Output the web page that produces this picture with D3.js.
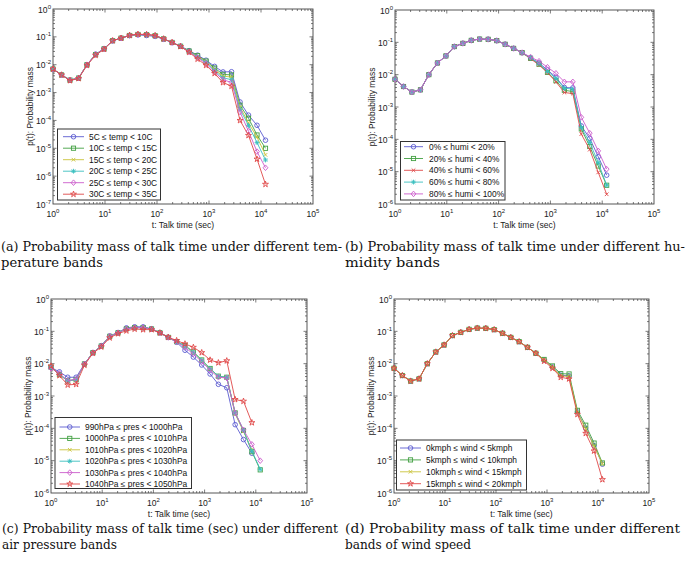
<!DOCTYPE html>
<html><head><meta charset="utf-8">
<script src="https://cdn.jsdelivr.net/npm/d3@7"></script>
<style>body{margin:0;background:#fff}svg{display:block}</style>
</head><body><div id="chart"></div>
<script>
// ---------- data ----------
const talkTime = [1, 1.46, 2.12, 3.1, 4.5, 6.6, 9.6, 14, 20.4, 29.7, 43, 63, 92, 134, 195, 284, 414, 603, 878, 1280, 1860, 2710, 3950, 5750, 8380, 12200];
const xTickExps = [0, 1, 2, 3, 4, 5];

// (a) temperature bands
const tempLabels = ["5C \u2264 temp < 10C", "10C \u2264 temp < 15C", "15C \u2264 temp < 20C", "20C \u2264 temp < 25C", "25C \u2264 temp < 30C", "30C \u2264 temp < 35C"];
const temp5_10  = [7.0e-3,4.3e-3,2.8e-3,3.3e-3,1.0e-2,2.4e-2,3.8e-2,7.2e-2,9.0e-2,0.112,0.118,0.112,0.104,0.082,0.062,0.046,0.032,0.022,0.0145,8.7e-3,5.5e-3,5.6e-3,4.6e-4,1.55e-4,6.7e-5,1.95e-5];
const temp10_15 = [7.0e-3,4.3e-3,2.8e-3,3.3e-3,1.0e-2,2.3e-2,3.7e-2,7.3e-2,9.0e-2,0.112,0.122,0.12,0.11,0.085,0.063,0.046,0.031,0.021,0.0135,7.6e-3,4.5e-3,4.3e-3,3.5e-4,1.2e-4,3.0e-5,1.0e-5];
const temp15_20 = [7.0e-3,4.3e-3,2.8e-3,3.3e-3,1.0e-2,2.3e-2,3.7e-2,7.3e-2,9.0e-2,0.112,0.122,0.12,0.11,0.085,0.063,0.046,0.030,0.020,0.0128,6.6e-3,3.9e-3,3.6e-3,3.0e-4,8.1e-5,2.5e-5,5.8e-6];
const temp20_25 = [7.0e-3,4.3e-3,2.8e-3,3.3e-3,1.0e-2,2.3e-2,3.7e-2,7.3e-2,9.0e-2,0.112,0.122,0.12,0.11,0.085,0.063,0.046,0.030,0.019,0.012,6.1e-3,3.4e-3,2.9e-3,2.5e-4,6.6e-5,1.6e-5,3.8e-6];
const temp25_30 = [7.0e-3,4.3e-3,2.8e-3,3.3e-3,1.0e-2,2.3e-2,3.7e-2,7.3e-2,9.0e-2,0.112,0.122,0.12,0.11,0.085,0.063,0.046,0.029,0.018,0.011,5.5e-3,2.9e-3,2.3e-3,2.0e-4,4.1e-5,7.6e-6,2.0e-6];
const temp30_35 = [7.0e-3,4.3e-3,2.7e-3,3.2e-3,0.95e-2,2.2e-2,3.6e-2,7.3e-2,9.0e-2,0.114,0.124,0.122,0.112,0.085,0.063,0.045,0.028,0.016,0.0095,4.9e-3,2.3e-3,1.7e-3,1.0e-4,2.9e-5,4.1e-6,5.1e-7];

// (b) humidity bands
const humiLabels = ["0% \u2264 humi < 20%", "20% \u2264 humi < 40%", "40% \u2264 humi < 60%", "60% \u2264 humi < 80%", "80% \u2264 humi < 100%"];
const humi0_20   = [7.2e-3,4.3e-3,2.9e-3,3.4e-3,1.0e-2,2.3e-2,3.8e-2,7.4e-2,9.3e-2,0.115,0.126,0.124,0.113,0.087,0.065,0.048,0.033,0.023,0.014,8.3e-3,4.0e-3,3.9e-3,2.6e-4,1.07e-4,2.9e-5,7.8e-6];
const humi20_40  = [7.2e-3,4.3e-3,2.9e-3,3.4e-3,1.0e-2,2.3e-2,3.8e-2,7.4e-2,9.3e-2,0.115,0.126,0.124,0.113,0.087,0.065,0.048,0.032,0.021,0.0118,6.5e-3,3.3e-3,3.0e-3,2.1e-4,6.0e-5,1.5e-5,3.8e-6];
const humi40_60  = [7.2e-3,4.3e-3,2.9e-3,3.4e-3,1.0e-2,2.3e-2,3.8e-2,7.4e-2,9.3e-2,0.115,0.126,0.124,0.113,0.087,0.065,0.048,0.031,0.020,0.0115,6.0e-3,2.8e-3,2.6e-3,1.45e-4,4.8e-5,9.5e-6,2.0e-6];
const humi60_80  = [7.2e-3,4.3e-3,2.9e-3,3.4e-3,1.0e-2,2.3e-2,3.8e-2,7.4e-2,9.3e-2,0.115,0.126,0.124,0.113,0.087,0.065,0.048,0.033,0.022,0.0126,7.7e-3,3.8e-3,3.6e-3,2.3e-4,8.0e-5,1.9e-5,3.8e-6];
const humi80_100 = [7.2e-3,4.3e-3,2.9e-3,3.4e-3,1.0e-2,2.3e-2,3.8e-2,7.4e-2,9.3e-2,0.115,0.126,0.124,0.113,0.087,0.065,0.048,0.035,0.026,0.017,0.011,6.0e-3,6.0e-3,4.8e-4,1.55e-4,4.4e-5,1.2e-5];

// (c) air pressure bands
const presLabels = ["990hPa \u2264 pres < 1000hPa", "1000hPa \u2264 pres < 1010hPa", "1010hPa \u2264 pres < 1020hPa", "1020hPa \u2264 pres < 1030hPa", "1030hPa \u2264 pres < 1040hPa", "1040hPa \u2264 pres < 1050hPa"];
const pres990  = [7.6e-3,5.6e-3,3.8e-3,3.8e-3,9.8e-3,2.2e-2,3.6e-2,7.2e-2,9.2e-2,0.128,0.138,0.138,0.12,0.091,0.065,0.046,0.026,0.016,0.0091,4.8e-3,2.3e-3,1.8e-3,1.3e-4,4.5e-5,1.7e-5];
const pres1000 = [7.8e-3,4.6e-3,2.95e-3,3.2e-3,9.8e-3,2.2e-2,3.5e-2,7.0e-2,9.0e-2,0.12,0.13,0.13,0.118,0.09,0.065,0.048,0.036,0.023,0.013,7.1e-3,4.1e-3,3.8e-3,3.0e-4,8.6e-5,1.9e-5,5.2e-6];
const pres1010 = [7.8e-3,4.6e-3,2.95e-3,3.2e-3,9.8e-3,2.2e-2,3.5e-2,7.0e-2,9.0e-2,0.12,0.13,0.13,0.118,0.09,0.065,0.048,0.036,0.023,0.013,7.0e-3,4.0e-3,3.7e-3,2.8e-4,8.0e-5,2.2e-5];
const pres1020 = [7.8e-3,4.6e-3,2.95e-3,3.2e-3,9.8e-3,2.2e-2,3.5e-2,7.0e-2,9.0e-2,0.12,0.13,0.13,0.118,0.09,0.065,0.048,0.036,0.023,0.013,7.1e-3,4.1e-3,3.8e-3,3.0e-4,8.6e-5,2.0e-5,5.4e-6];
const pres1030 = [7.2e-3,5.0e-3,3.0e-3,3.3e-3,9.8e-3,2.2e-2,3.5e-2,7.0e-2,9.0e-2,0.12,0.13,0.13,0.118,0.09,0.065,0.047,0.032,0.020,0.0115,6.3e-3,3.8e-3,3.6e-3,3.0e-4,9.0e-5,3.2e-5,1.0e-5];
const pres1040 = [8.5e-3,4.3e-3,2.2e-3,2.3e-3,9.0e-3,2.1e-2,3.3e-2,6.3e-2,8.5e-2,0.104,0.118,0.113,0.113,0.09,0.066,0.052,0.041,0.032,0.022,0.013,0.0107,0.0123,7.8e-4,6.9e-4,1.5e-4];

// (d) wind speed bands
const windLabels = ["0kmph \u2264 wind < 5kmph", "5kmph \u2264 wind < 10kmph", "10kmph \u2264 wind < 15kmph", "15kmph \u2264 wind < 20kmph"];
const wind0_5   = [7.2e-3,4.3e-3,2.9e-3,3.4e-3,1.0e-2,2.3e-2,3.8e-2,7.4e-2,9.3e-2,0.115,0.126,0.124,0.113,0.087,0.065,0.048,0.032,0.021,0.013,7.9e-3,4.4e-3,4.2e-3,3.2e-4,1.0e-4,2.9e-5,7.8e-6];
const wind5_10  = [7.2e-3,4.3e-3,2.9e-3,3.4e-3,1.0e-2,2.3e-2,3.8e-2,7.4e-2,9.3e-2,0.115,0.126,0.124,0.113,0.087,0.065,0.048,0.032,0.021,0.0135,8.5e-3,4.9e-3,4.8e-3,3.6e-4,1.25e-4,3.5e-5,8.5e-6];
const wind10_15 = [7.2e-3,4.3e-3,2.9e-3,3.4e-3,1.0e-2,2.3e-2,3.8e-2,7.4e-2,9.3e-2,0.115,0.126,0.124,0.113,0.087,0.065,0.048,0.032,0.021,0.013,7.7e-3,4.2e-3,4.0e-3,3.1e-4,9.5e-5,2.8e-5,8.0e-6];
const wind15_20 = [7.2e-3,4.3e-3,2.9e-3,3.4e-3,1.0e-2,2.3e-2,3.8e-2,7.4e-2,9.3e-2,0.115,0.126,0.124,0.113,0.087,0.065,0.048,0.032,0.021,0.012,7.2e-3,3.8e-3,3.4e-3,2.7e-4,7.0e-5,2.0e-5,2.6e-6];

const captionA = ["(a) Probability mass of talk time under different tem-", "perature bands"];
const captionB = ["(b) Probability mass of talk time under different hu-", "midity bands"];
const captionC = ["(c) Probability mass of talk time (sec) under different", "air pressure bands"];
const captionD = ["(d) Probability mass of talk time under different", "bands of wind speed"];

const xTitle = "t: Talk time (sec)";
const yTitle = "p(t): Probability mass";

// ---------- styles ----------
const COL = {b:"#5b5bd0", g:"#43a043", y:"#c9c33a", c:"#3bbfbf", m:"#cc5ccc", r:"#e04848"};

const panels = [
  {box:{x0:53,x1:313,y0:9,y1:204}, yMinExp:-7,
   series:[temp5_10,temp10_15,temp15_20,temp20_25,temp25_30,temp30_35], labels:tempLabels,
   colors:[COL.b,COL.g,COL.y,COL.c,COL.m,COL.r], markers:["o","s","x","*","d","h"],
   legend:{x:57.5,y:129,w:103,h:71,lx1:63,lx2:84,tx:89,row0:136.7,dy:11.5},
   caption:captionA, cap:{x:1,w:341,y:251,w2:102}},
  {box:{x0:395,x1:654,y0:10,y1:204}, yMinExp:-6,
   series:[humi0_20,humi20_40,humi40_60,humi60_80,humi80_100], labels:humiLabels,
   colors:[COL.b,COL.g,COL.r,COL.c,COL.m], markers:["o","s","x","*","d"],
   legend:{x:400.5,y:141.5,w:104.5,h:58.5,lx1:404,lx2:423,tx:429,row0:146.7,dy:11.8},
   caption:captionB, cap:{x:345,w:340,y:251,w2:95}},
  {box:{x0:51,x1:307,y0:299,y1:493}, yMinExp:-6,
   series:[pres990,pres1000,pres1010,pres1020,pres1030,pres1040], labels:presLabels,
   colors:[COL.b,COL.g,COL.y,COL.c,COL.m,COL.r], markers:["o","s","x","*","d","h"],
   legend:{x:55,y:417.5,w:136.5,h:71,lx1:59.5,lx2:80,tx:85,row0:427,dy:11.4},
   caption:captionC, cap:{x:2,w:336,y:533,w2:115}},
  {box:{x0:394,x1:649,y0:299,y1:493}, yMinExp:-6,
   series:[wind0_5,wind5_10,wind10_15,wind15_20], labels:windLabels,
   colors:[COL.b,COL.g,COL.y,COL.r], markers:["o","s","x","h"],
   legend:{x:396.5,y:440,w:130,h:50,lx1:400,lx2:421,tx:426,row0:448,dy:11.9},
   caption:captionD, cap:{x:345,w:335,y:533,w2:126}}
];

const svg = d3.select("#chart").append("svg").attr("width",686).attr("height",564)
  .style("font-family","'Liberation Sans', Arial, sans-serif");

function marker(g, type, x, y, color){
  const s = g.append("g").attr("transform",`translate(${x},${y})`)
    .attr("fill","none").attr("stroke",color).attr("stroke-width",0.9);
  if(type==="o") s.append("circle").attr("r",2.3);
  else if(type==="s") s.append("rect").attr("x",-2.1).attr("y",-2.1).attr("width",4.2).attr("height",4.2);
  else if(type==="x") s.append("path").attr("d","M-1.8,-1.8L1.8,1.8M-1.8,1.8L1.8,-1.8");
  else if(type==="*") s.append("path").attr("d","M-1.8,-1.8L1.8,1.8M-1.8,1.8L1.8,-1.8M-2.4,0L2.4,0M0,-2.4L0,2.4");
  else if(type==="d") s.append("path").attr("d","M0,-2.8L2.4,0L0,2.8L-2.4,0Z");
  else if(type==="h") s.append("path").attr("d", d3.symbol(d3.symbolStar, 11)());
}

function tickLabel(g, x, y, exp, anchor){
  const t = g.append("text").attr("x",x).attr("y",y).attr("text-anchor",anchor)
    .attr("font-size",8.6).attr("fill","#222");
  t.append("tspan").text("10");
  t.append("tspan").attr("dy",-4).attr("font-size",6).text(String(exp));
}

panels.forEach(p => {
  const {x0,x1,y0,y1} = p.box;
  const x = d3.scaleLog().domain([1,1e5]).range([x0,x1]);
  const y = d3.scaleLog().domain([Math.pow(10,p.yMinExp),1]).range([y1,y0]);
  const g = svg.append("g");

  // ticks (inside, all four sides)
  const tk = g.append("g").attr("stroke","#444").attr("stroke-width",0.7);
  for(let e=0;e<5;e++){
    for(let m=1;m<10;m++){
      const v = m*Math.pow(10,e); const xx = x(v); const L = m===1?3.5:2;
      if(m===1 && e===0) continue;
      tk.append("line").attr("x1",xx).attr("x2",xx).attr("y1",y1).attr("y2",y1-L);
      tk.append("line").attr("x1",xx).attr("x2",xx).attr("y1",y0).attr("y2",y0+L);
    }
  }
  for(let e=p.yMinExp;e<0;e++){
    for(let m=1;m<10;m++){
      const v = m*Math.pow(10,e); const yy = y(v); const L = m===1?3.5:2;
      if(m===1 && e===p.yMinExp) continue;
      tk.append("line").attr("y1",yy).attr("y2",yy).attr("x1",x0).attr("x2",x0+L);
      tk.append("line").attr("y1",yy).attr("y2",yy).attr("x1",x1).attr("x2",x1-L);
    }
  }
  g.append("rect").attr("x",x0).attr("y",y0).attr("width",x1-x0).attr("height",y1-y0)
    .attr("fill","none").attr("stroke","#444").attr("stroke-width",0.9);

  // tick labels
  xTickExps.forEach(e => tickLabel(g, x(Math.pow(10,e)), y1+13, e, "middle"));
  for(let e=p.yMinExp;e<=0;e++) tickLabel(g, x0-2, y(Math.pow(10,e))+3.5, e, "end");

  // titles
  g.append("text").attr("x",(x0+x1)/2).attr("y",y1+24).attr("text-anchor","middle")
    .attr("font-size",8.6).attr("fill","#222").text(xTitle);
  g.append("text").attr("transform",`translate(${x0-20},${(y0+y1)/2}) rotate(-90)`)
    .attr("text-anchor","middle").attr("font-size",8.4).attr("fill","#222").text(yTitle);

  // series
  const line = d3.line().x((d,i)=>x(talkTime[i])).y(d=>y(d));
  p.series.forEach((s,si) => {
    const c = p.colors[si];
    g.append("path").datum(s).attr("d",line).attr("fill","none").attr("stroke",c).attr("stroke-width",0.9);
    s.forEach((v,i) => marker(g, p.markers[si], x(talkTime[i]), y(v), c));
  });

  // legend
  const L = p.legend;
  const lg = g.append("g");
  lg.append("rect").attr("x",L.x).attr("y",L.y).attr("width",L.w).attr("height",L.h)
    .attr("fill","#fff").attr("stroke","#333").attr("stroke-width",1);
  p.labels.forEach((lab,i) => {
    const yy = L.row0 + i*L.dy;
    lg.append("line").attr("x1",L.lx1).attr("x2",L.lx2).attr("y1",yy).attr("y2",yy)
      .attr("stroke",p.colors[i]).attr("stroke-width",0.9);
    marker(lg, p.markers[i], (L.lx1+L.lx2)/2, yy, p.colors[i]);
    lg.append("text").attr("x",L.tx).attr("y",yy+3).attr("font-size",8.4).attr("fill","#111").text(lab);
  });

  // caption
  const cg = g.append("g").attr("font-family","'DejaVu Serif', 'Liberation Serif', serif").attr("font-size",13).attr("fill","#111");
  cg.append("text").attr("x",p.cap.x).attr("y",p.cap.y).attr("textLength",p.cap.w).attr("lengthAdjust","spacingAndGlyphs").text(p.caption[0]);
  cg.append("text").attr("x",p.cap.x).attr("y",p.cap.y+16).attr("textLength",p.cap.w2).attr("lengthAdjust","spacingAndGlyphs").text(p.caption[1]);
});
</script></body></html>
